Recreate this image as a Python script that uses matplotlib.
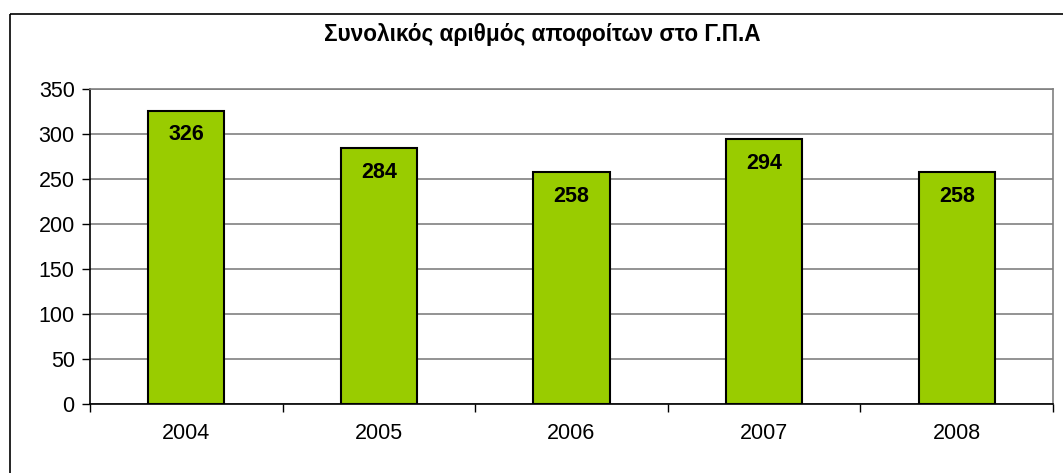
import matplotlib
matplotlib.use("Agg")
import matplotlib.pyplot as plt
from matplotlib.patches import Rectangle

years = ["2004", "2005", "2006", "2007", "2008"]
graduates = [326, 284, 258, 294, 258]
title = "Συνολικός αριθμός αποφοίτων στο Γ.Π.Α"

plt.rcParams['font.family'] = ['Liberation Sans', 'DejaVu Sans']

W, H = 1063, 473
fig = plt.figure(figsize=(W / 100, H / 100), dpi=100)
fig.patch.set_facecolor('white')

# outer chart frame
fig.patches.append(Rectangle((10 / W, 1 - 14 / H), 1.2, -1.2, transform=fig.transFigure,
                             fill=False, edgecolor='black', linewidth=1.2))

ax = fig.add_axes([90 / W, 1 - 404 / H, (1053 - 90) / W, (404 - 89) / H])
x = list(range(len(years)))
ax.bar(x, graduates, width=0.395, color='#99CC00', edgecolor='black', linewidth=1.5, zorder=3)
ax.set_xlim(-0.5, len(years) - 0.5)
ax.set_ylim(0, 350)
ax.set_yticks(range(0, 351, 50))
ax.yaxis.grid(True, color='#808080', linewidth=1.2, zorder=0)
ax.set_axisbelow(True)

ax.set_xticks(x)
ax.set_xticklabels(years, fontsize=15.5)
ax.tick_params(axis='x', length=0, pad=14)
ax.set_xticks([i - 0.5 for i in range(len(years) + 1)], minor=True)
ax.tick_params(axis='x', which='minor', length=6, width=1, direction='out', color='black')
ax.tick_params(axis='y', length=6, width=1, direction='out', labelsize=15.5, pad=5)

for side in ['top', 'right']:
    ax.spines[side].set_color('#808080')
    ax.spines[side].set_linewidth(1.2)
for side in ['left', 'bottom']:
    ax.spines[side].set_color('black')
    ax.spines[side].set_linewidth(1.2)

for xi, v in zip(x, graduates):
    ax.annotate(str(v), (xi, v), xytext=(0, -17.5), textcoords='offset points',
                ha='center', va='center', fontsize=15.5, fontweight='bold', zorder=4)

fig.text(542 / W, 1 - 34 / H, title, ha='center', va='center', fontsize=16.3, fontweight='bold')

fig.savefig('out.png', dpi=100)
